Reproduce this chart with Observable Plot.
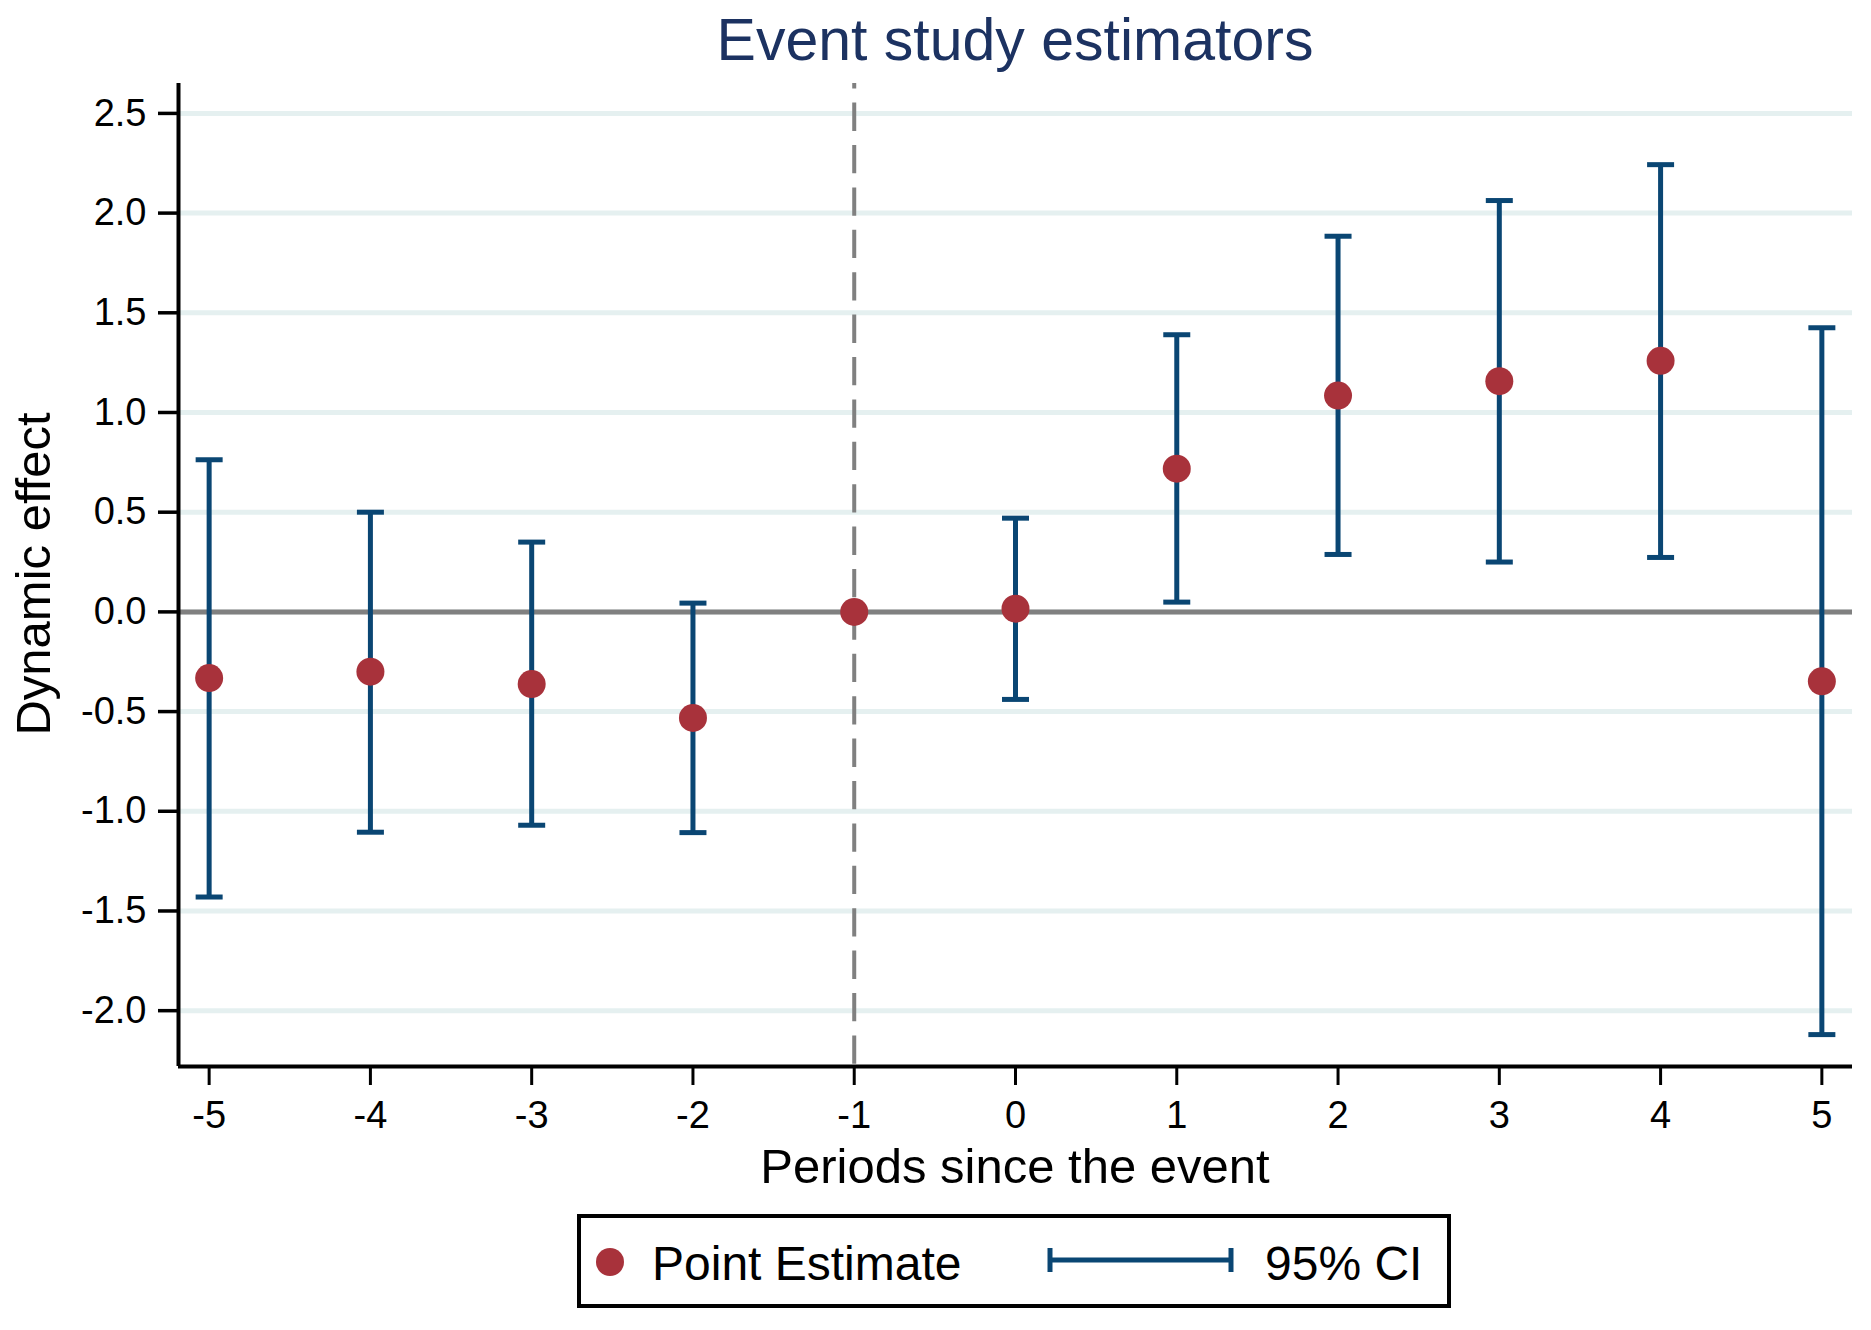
<!DOCTYPE html>
<html>
<head>
<meta charset="utf-8">
<script src="https://cdn.jsdelivr.net/npm/d3@7"></script>
<script src="https://cdn.jsdelivr.net/npm/@observablehq/plot@0.6"></script>
<style>
  html, body { margin: 0; padding: 0; background: #fff; }
  #wrap { position: relative; width: 1871px; height: 1330px; background: #fff; font-family: "Liberation Sans", Arial, sans-serif; }
  #title { position: absolute; top: 11px; left: 178px; width: 1674px; text-align: center; font-size: 59px; line-height: 59px; color: #1c3261; margin: 0; font-weight: normal; }
  #legend { position: absolute; left: 577px; top: 1214px; }
</style>
</head>
<body>
<div id="wrap">
  <h1 id="title">Event study estimators</h1>
</div>
<script>
// ---- data ----
const periods   = [-5, -4, -3, -2, -1, 0, 1, 2, 3, 4, 5];
const estimates = [-0.332, -0.300, -0.362, -0.532, 0.000, 0.016, 0.718, 1.085, 1.157, 1.259, -0.348];
const ciHigh    = [0.763, 0.500, 0.350, 0.044, null, 0.470, 1.390, 1.884, 2.063, 2.243, 1.425];
const ciLow     = [-1.430, -1.105, -1.070, -1.107, null, -0.439, 0.049, 0.288, 0.250, 0.273, -2.120];
const yTicks    = [-2.0, -1.5, -1.0, -0.5, 0.0, 0.5, 1.0, 1.5, 2.0, 2.5];
const xTicks    = periods;
const xLabel = "Periods since the event";
const yLabel = "Dynamic effect";
const legendLabels = ["Point Estimate", "95% CI"];

const rows = periods.map((p, i) => ({period: p, est: estimates[i], lo: ciLow[i], hi: ciHigh[i]}));
const ciRows = rows.filter(d => d.lo != null && d.hi != null);

const xDomain = [-5.19, 5.19];
const yDomain = [-2.28, 2.65];

const dotColor = "#a8323b";
const ciColor = "#0a4673";
const gridColor = "#e5f0f0";
const refColor = "#808080";

const capSymbol = {
  draw(context, size) {
    const w = Math.sqrt(size / Math.PI);
    context.moveTo(-w, 0);
    context.lineTo(w, 0);
  }
};

const chart = Plot.plot({
  width: 1871,
  height: 1330,
  marginLeft: 178,
  marginRight: 19,
  marginTop: 83,
  marginBottom: 264,
  style: {fontFamily: "'Liberation Sans', Arial, sans-serif", fontSize: "38px", color: "#000", background: "transparent"},
  x: {domain: xDomain, label: null},
  y: {domain: yDomain, label: null},
  marks: [
    Plot.gridY(yTicks, {stroke: gridColor, strokeOpacity: 1, strokeWidth: 5}),
    Plot.ruleY([0], {stroke: refColor, strokeWidth: 5}),
    Plot.ruleX([-1], {stroke: refColor, strokeWidth: 4, strokeDasharray: "28.3,14.1", strokeDashoffset: 22.8}),
    Plot.ruleX(ciRows, {x: "period", y1: "lo", y2: "hi", stroke: ciColor, strokeWidth: 5}),
    Plot.dot(ciRows, {x: "period", y: "lo", symbol: capSymbol, r: 13.5, stroke: ciColor, strokeWidth: 5, fill: "none"}),
    Plot.dot(ciRows, {x: "period", y: "hi", symbol: capSymbol, r: 13.5, stroke: ciColor, strokeWidth: 5, fill: "none"}),
    Plot.dot(rows, {x: "period", y: "est", r: 14, fill: dotColor, stroke: null}),
    Plot.axisX({ticks: xTicks, tickFormat: d => String(d), tickSize: 19, tickPadding: 16, strokeWidth: 3, label: null}),
    Plot.axisY({ticks: yTicks, tickFormat: d => d.toFixed(1), tickSize: 20, tickPadding: 12, strokeWidth: 3.5, label: null}),
    Plot.ruleX([xDomain[0]], {stroke: "#000", strokeWidth: 4}),
    Plot.ruleY([yDomain[0]], {stroke: "#000", strokeWidth: 4})
  ]
});

chart.style.position = "absolute";
chart.style.left = "0px";
chart.style.top = "0px";
const wrap = document.getElementById("wrap");
wrap.insertBefore(chart, wrap.firstChild);

const svg = d3.select(chart);
svg.append("text")
  .attr("x", 1015).attr("y", 1183)
  .attr("text-anchor", "middle")
  .style("font-size", "49px")
  .attr("fill", "#000")
  .text(xLabel);
svg.append("text")
  .attr("transform", "translate(50,574) rotate(-90)")
  .attr("text-anchor", "middle")
  .style("font-size", "49px")
  .attr("fill", "#000")
  .text(yLabel);

// legend
const leg = d3.select(wrap).append("svg")
  .attr("id", "legend")
  .attr("width", 874).attr("height", 94)
  .style("font-family", "'Liberation Sans', Arial, sans-serif");
leg.append("rect").attr("x", 2).attr("y", 2).attr("width", 870).attr("height", 90)
  .attr("fill", "#fff").attr("stroke", "#000").attr("stroke-width", 4);
leg.append("circle").attr("cx", 33).attr("cy", 48).attr("r", 14).attr("fill", dotColor);
leg.append("text").attr("x", 75).attr("y", 66).style("font-size", "48px").attr("fill", "#000").text(legendLabels[0]);
leg.append("line").attr("x1", 471).attr("x2", 656).attr("y1", 46).attr("y2", 46).attr("stroke", ciColor).attr("stroke-width", 5);
leg.append("line").attr("x1", 473).attr("x2", 473).attr("y1", 34).attr("y2", 58).attr("stroke", ciColor).attr("stroke-width", 5);
leg.append("line").attr("x1", 654).attr("x2", 654).attr("y1", 34).attr("y2", 58).attr("stroke", ciColor).attr("stroke-width", 5);
leg.append("text").attr("x", 688).attr("y", 66).style("font-size", "48px").attr("fill", "#000").text(legendLabels[1]);
</script>
</body>
</html>
